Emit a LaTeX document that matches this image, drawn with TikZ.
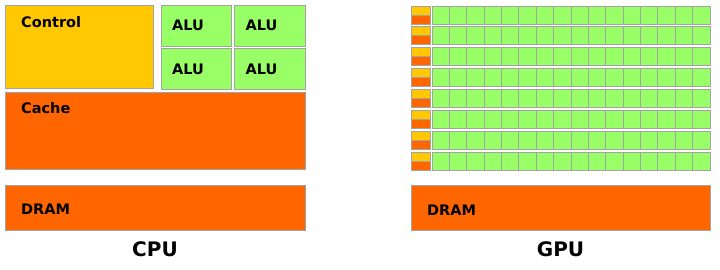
\documentclass[tikz,border=0pt]{standalone}
\usepackage{fontspec}
\setmainfont{DejaVu Sans}
\usetikzlibrary{positioning,calc}
\definecolor{ctrlyellow}{HTML}{FFC800}
\definecolor{alugreen}{HTML}{99FF66}
\definecolor{memorange}{HTML}{FF6600}
\definecolor{edgegray}{HTML}{A3A3A3}

\tikzset{
 unit/.style={draw=edgegray, line width=1pt, inner sep=0pt, outer sep=0pt, anchor=north west},
 lbl/.style={font=\bfseries\fontsize{14.5}{17}\selectfont, inner sep=0pt},
 chip/.style={font=\bfseries\fontsize{20}{24}\selectfont, inner sep=0pt, anchor=base},
}

\begin{document}
\begin{tikzpicture}[x=1pt, y=-1pt]
 \useasboundingbox (0,0) rectangle (720,269);
 % CPU side
 \node[unit, fill=ctrlyellow, minimum width=148pt, minimum height=83pt] (ctrl) at (5,5) {};
 \node[unit, fill=alugreen, minimum width=70.5pt, minimum height=41pt] (alu1) at (161,5) {};
 \node[unit, fill=alugreen, minimum width=70.5pt, minimum height=41pt] (alu2) at (234.5,5) {};
 \node[unit, fill=alugreen, minimum width=70.5pt, minimum height=41pt] (alu3) at (161,48.5) {};
 \node[unit, fill=alugreen, minimum width=70.5pt, minimum height=41pt] (alu4) at (234.5,48.5) {};
 \node[unit, fill=memorange, minimum width=300pt, minimum height=77pt] (cache) at (5,92) {};
 \node[unit, fill=memorange, minimum width=300pt, minimum height=45pt] (cdram) at (5,185) {};
 \node[lbl, anchor=base west] (ctrltxt) at ($(ctrl.north west)+(16,22)$) {Control};
 \foreach \a in {1,...,4}
  \node[lbl, right=11pt of alu\a.west] (alutxt\a) {ALU};
 \node[lbl, anchor=base west] (cachetxt) at ($(cache.north west)+(16,21.5)$) {Cache};
 \node[lbl, anchor=base west] (cdramtxt) at ($(cdram.north west)+(16,29)$) {DRAM};
 \node[chip] (cpu) at ($(cdram.south)+(0,26)$) {CPU};

 % GPU side
 \foreach \r in {0,...,7} {
  \node[unit, fill=ctrlyellow, minimum width=19pt, minimum height=9pt] (gctrl\r) at (411,6+\r*20.86) {};
  \node[unit, fill=memorange, minimum width=19pt, minimum height=9pt] (gcache\r) at (gctrl\r.south west) {};
  \foreach \c in {0,...,15}
   \node[unit, fill=alugreen, minimum width=17.375pt, minimum height=18pt] (g-\r-\c) at (432+\c*17.375,6+\r*20.86) {};
 }
 \node[unit, fill=memorange, minimum width=299pt, minimum height=45pt] (gdram) at (411,185) {};
 \node[lbl, anchor=base west] (gdramtxt) at ($(gdram.north west)+(16,30)$) {DRAM};
 \node[chip] (gpu) at ($(gdram.south)+(0,26)$) {GPU};
\end{tikzpicture}
\end{document}
